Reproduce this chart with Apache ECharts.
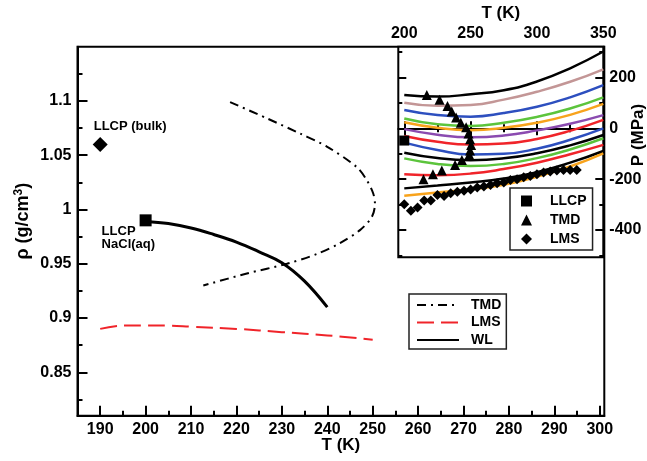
<!DOCTYPE html>
<html>
<head>
<meta charset="utf-8">
<script src="https://cdn.jsdelivr.net/npm/echarts@6.0.0/dist/echarts.min.js"></script>
<style>
  html, body { margin: 0; padding: 0; background: #fff; }
  #chart { width: 647px; height: 461px; }
</style>
</head>
<body>
<div id="chart"></div>
<script>
// main panel: density vs temperature
const tmdT = [218.6, 226.7, 234.0, 239.9, 246.5, 248.7, 250.1, 250.5, 249.8, 247.2, 242.8, 237.7, 231.1, 222.3, 212.7];
const tmdRho = [1.099, 1.084, 1.070, 1.058, 1.039, 1.027, 1.015, 1.005, 0.993, 0.981, 0.969, 0.959, 0.950, 0.941, 0.930];
const wlT = [200, 205, 210, 215, 220, 225, 230, 235, 240];
const wlRho = [0.989, 0.987, 0.983, 0.977, 0.970, 0.961, 0.951, 0.934, 0.910];
const lmsT = [190, 195, 200, 205, 210, 220, 230, 240, 250];
const lmsRho = [0.890, 0.893, 0.893, 0.893, 0.892, 0.890, 0.887, 0.884, 0.880];
const llcpBulk = [190, 1.06];
const llcpSalt = [200, 0.99];

const tTicks = [190, 200, 210, 220, 230, 240, 250, 260, 270, 280, 290, 300];
const tMinor = [195, 205, 215, 225, 235, 245, 255, 265, 275, 285, 295];
const rhoTicks = [0.85, 0.9, 0.95, 1, 1.05, 1.1];
const rhoMinor = [0.825, 0.875, 0.925, 0.975, 1.025, 1.075, 1.125];

// inset: pressure vs temperature
const insetT = [200, 225, 250, 275, 300, 325, 350];
const isoP = [
  [131, 125, 134, 150, 184, 236, 302],
  [101, 89, 92, 113, 144, 183, 232],
  [72, 52, 46, 60, 85, 122, 170],
  [39, 16, 9, 22, 45, 78, 122],
  [24, 2, -7, 2, 22, 53, 96],
  [-3, -25, -35, -28, -8, 18, 52],
  [-30, -53, -64, -60, -42, -10, 33],
  [-56, -85, -103, -100, -80, -45, 0],
  [-96, -117, -125, -118, -98, -67, -26],
  [-118, -140, -148, -140, -117, -83, -39],
  [-180, -184, -178, -160, -135, -102, -65],
  [-236, -225, -213, -197, -172, -135, -89],
  [-265, -252, -240, -222, -190, -150, -98]
];
const isoColors = ['#000000', '#c39696', '#2d4fbf', '#5cc43c', '#f8a31c', '#8b4bb0',
  '#f0242a', '#2d4fbf', '#000000', '#5cc43c', '#f0242a', '#000000', '#f8a31c'];
const insetTmdT = [217, 226.6, 232.6, 235.8, 239.1, 242.6, 246.6, 248.4, 249.6, 250.4, 249.6, 249, 243.4, 238.3, 228.3, 221.6, 214.5];
const insetTmdP = [131, 112, 88, 66, 43, 22, 4, -20, -43, -65, -87, -104, -124, -144, -166, -180, -200];
const insetLmsT = [200, 205, 210, 215, 220, 225, 230, 235, 240, 245, 250, 255, 260, 265, 270, 275, 280, 285, 290, 295, 300, 305, 310, 315, 320, 325, 330];
const insetLmsP = [-298, -324, -311, -284, -284, -262, -266, -255, -249, -245, -240, -233, -229, -223, -216, -213, -203, -200, -192, -187, -180, -174, -170, -166, -164, -164, -164];
const insetLlcp = [200, -48];

const insetTTicks = [200, 250, 300, 350];
const insetTMinor = [225, 275, 325];
const pTicks = [-400, -200, 0, 200];
const pMinor = [-500, -300, -100, 100, 300];

const zip = (xs, ys) => xs.map((x, i) => [x, ys[i]]);

const FONT = 'Liberation Sans, Arial, Helvetica, sans-serif';
const labelStyle = { color: '#000', fontFamily: FONT, fontWeight: 'bold', fontSize: 16 };
const nameStyle = { color: '#000', fontFamily: FONT, fontWeight: 'bold', fontSize: 17 };
const axisLine = { show: true, lineStyle: { color: '#000', width: 2 } };

function tickAxis(gridIndex, position, min, max, values, length) {
  return {
    type: 'value', gridIndex, position, min, max,
    axisLine: { show: false },
    axisTick: { show: true, inside: true, length, customValues: values, lineStyle: { color: '#000', width: 2 } },
    axisLabel: { show: false },
    splitLine: { show: false }
  };
}

const chart = echarts.init(document.getElementById('chart'), null, { renderer: 'canvas' });

const insetLines = isoP.map((p, i) => ({
  name: 'iso' + i,
  type: 'line',
  xAxisIndex: 2, yAxisIndex: 2,
  data: zip(insetT, p),
  smooth: true,
  symbol: 'none',
  lineStyle: { color: isoColors[i], width: 2.5 },
  z: 3
}));

const option = {
  animation: false,
  backgroundColor: '#fff',
  grid: [
    { left: 77.5, top: 46.7, right: 42.7, bottom: 45.3, outerBoundsMode: 'none', show: true, borderColor: '#000', borderWidth: 2, backgroundColor: 'transparent' },
    { left: 398.3, top: 46.7, right: 43.7, bottom: 203.7, outerBoundsMode: 'none', show: true, borderColor: '#000', borderWidth: 2, backgroundColor: '#fff' }
  ],
  legend: [
    {
      data: ['TMD', 'LMS', 'WL'],
      orient: 'vertical', left: 409, top: 294,
      itemWidth: 42, itemHeight: 14, itemGap: 3.5,
      padding: [4, 5, 2, 7],
      borderColor: '#222', borderWidth: 1.5, backgroundColor: '#fff',
      itemStyle: { opacity: 0 },
      textStyle: { color: '#000', fontFamily: FONT, fontWeight: 'bold', fontSize: 14, padding: [0, 0, 0, 7] }
    },
    {
      data: ['LLCP', 'TMD ', 'LMS '],
      orient: 'vertical', left: 510, top: 188,
      itemWidth: 11, itemHeight: 11, itemGap: 5,
      padding: [6, 6, 4, 11],
      borderColor: '#222', borderWidth: 1.5, backgroundColor: '#fff',
      textStyle: { color: '#000', fontFamily: FONT, fontWeight: 'bold', fontSize: 14, padding: [0, 0, 0, 13] }
    }
  ],
  xAxis: [
    {
      type: 'value', gridIndex: 0, position: 'bottom', min: 185, max: 301,
      axisLine,
      axisTick: { inside: true, length: 10, customValues: tTicks, lineStyle: { color: '#000', width: 2 } },
      axisLabel: Object.assign({ customValues: tTicks, margin: 6 }, labelStyle),
      splitLine: { show: false },
      name: 'T (K)', nameLocation: 'middle', nameGap: 21, nameMoveOverlap: false,
      nameTextStyle: Object.assign({ verticalAlign: 'top' }, nameStyle)
    },
    tickAxis(0, 'bottom', 185, 301, tMinor, 5),
    {
      type: 'value', gridIndex: 1, position: 'top', min: 195.5, max: 350,
      axisLine,
      axisTick: { inside: true, length: 7, customValues: insetTTicks, lineStyle: { color: '#000', width: 2 } },
      axisLabel: Object.assign({ customValues: insetTTicks, margin: 5 }, labelStyle),
      splitLine: { show: false },
      name: 'T (K)', nameLocation: 'middle', nameGap: 25, nameMoveOverlap: false, nameTextStyle: nameStyle
    },
    tickAxis(1, 'top', 195.5, 350, insetTMinor, 4),
    tickAxis(1, 'bottom', 195.5, 350, insetTTicks, 7),
    tickAxis(1, 'bottom', 195.5, 350, insetTMinor, 4)
  ],
  yAxis: [
    {
      type: 'value', gridIndex: 0, position: 'left', min: 0.81, max: 1.15,
      axisLine,
      axisTick: { inside: true, length: 10, customValues: rhoTicks, lineStyle: { color: '#000', width: 2 } },
      axisLabel: Object.assign({ customValues: rhoTicks, margin: 6 }, labelStyle),
      splitLine: { show: false },
      name: '{t|ρ (g/cm}{s|3}{t|)}', nameLocation: 'middle', nameGap: 43, nameMoveOverlap: false,
      nameTextStyle: {
        padding: [0, 0, 0, 20],
        rich: {
          t: { color: '#000', fontFamily: FONT, fontWeight: 'bold', fontSize: 18, lineHeight: 22 },
          s: { color: '#000', fontFamily: FONT, fontWeight: 'bold', fontSize: 12, lineHeight: 22, verticalAlign: 'top', padding: [0, 0, 10, 0] }
        }
      }
    },
    tickAxis(0, 'left', 0.81, 1.15, rhoMinor, 5),
    {
      type: 'value', gridIndex: 1, position: 'right', min: -507, max: 321,
      axisLine,
      axisTick: { inside: true, length: 8, customValues: pTicks, lineStyle: { color: '#000', width: 2 } },
      axisLabel: Object.assign({ customValues: pTicks, margin: 6 }, labelStyle),
      splitLine: { show: false },
      name: 'P (MPa)', nameLocation: 'middle', nameGap: 27, nameMoveOverlap: false,
      nameTextStyle: Object.assign({ padding: [0, 0, 0, 34] }, nameStyle)
    },
    tickAxis(1, 'right', -507, 321, pMinor, 4),
    tickAxis(1, 'left', -507, 321, pTicks, 8),
    tickAxis(1, 'left', -507, 321, pMinor, 4)
  ],
  series: [
    {
      name: 'TMD', type: 'line', xAxisIndex: 0, yAxisIndex: 0,
      data: zip(tmdT, tmdRho), smooth: 0.3, symbol: 'none',
      itemStyle: { color: '#000' },
      lineStyle: { color: '#000', width: 2, type: [9, 5, 2, 5] }
    },
    {
      name: 'LMS', type: 'line', xAxisIndex: 0, yAxisIndex: 0,
      data: zip(lmsT, lmsRho), smooth: 0.4, symbol: 'none',
      itemStyle: { color: '#f0242a' },
      lineStyle: { color: '#f0242a', width: 2, type: [17, 7] }
    },
    {
      name: 'WL', type: 'line', xAxisIndex: 0, yAxisIndex: 0,
      data: zip(wlT, wlRho), smooth: 0.4, symbol: 'none',
      itemStyle: { color: '#000' },
      lineStyle: { color: '#000', width: 3 }
    },
    {
      name: 'LLCP (bulk)', type: 'scatter', xAxisIndex: 0, yAxisIndex: 0,
      data: [llcpBulk], symbol: 'diamond', symbolSize: 15,
      itemStyle: { color: '#000', opacity: 1 },
      label: {
        show: true, position: 'top', distance: 4, offset: [30, 0],
        formatter: 'LLCP (bulk)',
        color: '#000', fontFamily: FONT, fontWeight: 'bold', fontSize: 13
      }
    },
    {
      name: 'LLCP NaCl(aq)', type: 'scatter', xAxisIndex: 0, yAxisIndex: 0,
      data: [llcpSalt], symbol: 'rect', symbolSize: 12,
      itemStyle: { color: '#000', opacity: 1 },
      label: {
        show: true, position: [-38, 11], align: 'left', verticalAlign: 'top',
        formatter: '{a|LLCP}\n{a|NaCl(aq)}',
        rich: { a: { color: '#000', fontFamily: FONT, fontWeight: 'bold', fontSize: 13, lineHeight: 13 } }
      }
    },
    ...insetLines,
    {
      name: 'TMD ', type: 'scatter', xAxisIndex: 2, yAxisIndex: 2,
      data: zip(insetTmdT, insetTmdP), symbol: 'triangle', symbolSize: 10,
      itemStyle: { color: '#000', opacity: 1 }, z: 5
    },
    {
      name: 'LMS ', type: 'scatter', xAxisIndex: 2, yAxisIndex: 2,
      data: zip(insetLmsT, insetLmsP), symbol: 'diamond', symbolSize: 10,
      itemStyle: { color: '#000', opacity: 1 }, z: 5
    },
    {
      name: 'LLCP', type: 'scatter', xAxisIndex: 2, yAxisIndex: 2,
      data: [insetLlcp], symbol: 'rect', symbolSize: 10,
      itemStyle: { color: '#000', opacity: 1 }, z: 5
    }
  ]
};

chart.setOption(option);
window.addEventListener('resize', chart.resize);
</script>
</body>
</html>
